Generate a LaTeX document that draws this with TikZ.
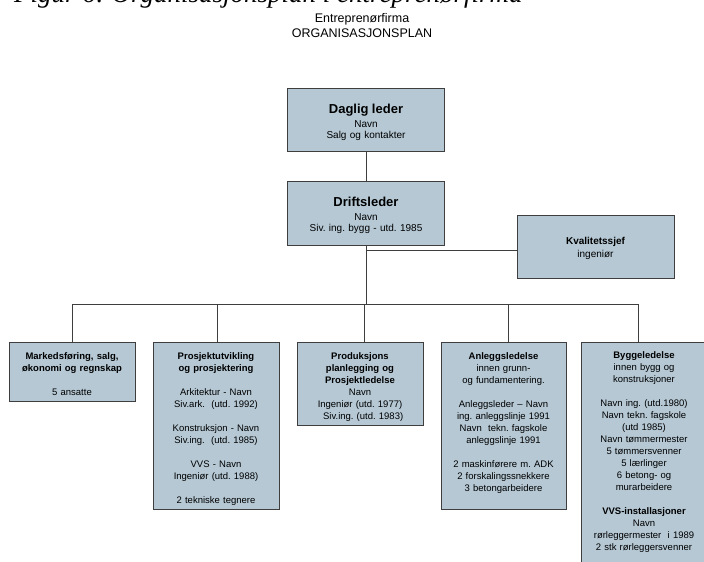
\documentclass[tikz,border=0pt]{standalone}
\usepackage{fontspec}
\setmainfont{Liberation Sans}
\newfontfamily\captionserif{Liberation Serif}
\usetikzlibrary{calc}
\frenchspacing

\definecolor{boxblue}{RGB}{181,200,212}
\definecolor{boxline}{RGB}{62,62,62}
% strut that pushes a box text a little down
\newcommand{\lift}[1]{\rule{0pt}{#1pt}}

\begin{document}
\begin{tikzpicture}[x=1pt,y=-1pt]
  \tikzstyle{unit}=[draw=boxline, fill=boxblue, line width=0.9pt, align=center, inner sep=0pt, font=\fontsize{9.5}{12}\selectfont]
  \tikzstyle{head}=[unit, minimum width=157pt, minimum height=63pt, text width=150pt, font=\fontsize{10}{11.5}\selectfont]
  \tikzstyle{link}=[line width=0.9pt, color=boxline]
  \useasboundingbox (0,0) rectangle (704,562);

  % caption cut off at the top
  \node[anchor=base west, inner sep=0pt, font={\captionserif\itshape\fontsize{27}{27}\selectfont}] (caption) at (14,2) {Figur 6: Organisasjonsplan i entreprenørfirma};
  \node[align=center, inner sep=0pt, font=\fontsize{12.5}{15.5}\selectfont] (firma) at (362,25.5) {Entreprenørfirma\\ ORGANISASJONSPLAN};

  \node[head] (daglig) at (366,119.5) {\lift{16}{\fontsize{13}{15}\selectfont\bfseries Daglig leder}\\[2pt] Navn\\ Salg og kontakter};
  \node[head, minimum height=64pt] (drift) at (366,213) {\lift{15}{\fontsize{13}{15}\selectfont\bfseries Driftsleder}\\[2pt] Navn\\ Siv. ing. bygg - utd. 1985};
  \node[head, font=\fontsize{10}{13}\selectfont] (kval) at (595.5,246.5) {\lift{11}\textbf{Kvalitetssjef}\\ ingeniør};

  \node[unit, minimum width=126pt, minimum height=59pt, text width=122pt] (markeds) at (72,371.5) {\lift{12}\textbf{Markedsføring, salg,}\\ \textbf{økonomi og regnskap}\\[12pt] 5 ansatte};
  \node[unit, minimum width=126pt, minimum height=167pt, text width=122pt] (prosjekt) at (216,425.5) {\lift{13}\textbf{Prosjektutvikling}\\ \textbf{og prosjektering}\\[12pt] Arkitektur - Navn\\ Siv.ark.\ \ (utd. 1992)\\[12pt] Konstruksjon - Navn\\ Siv.ing.\ \ (utd. 1985)\\[12pt] VVS - Navn\\ Ingeniør (utd. 1988)\\[12pt] 2 tekniske tegnere};
  \node[unit, minimum width=126pt, minimum height=83pt, text width=122pt] (produksjon) at (360,383.5) {\lift{13}\textbf{Produksjons}\\ \textbf{planlegging og}\\ \textbf{Prosjektledelse}\\ Navn\\ Ingeniør (utd. 1977)\\ \ \ Siv.ing. (utd. 1983)};
  \node[unit, minimum width=125pt, minimum height=167pt, text width=122pt] (anlegg) at (503.5,425.5) {\lift{11}\textbf{Anleggsledelse}\\ innen grunn-\\ og fundamentering.\\[12pt] Anleggsleder -- Navn\\ ing. anleggslinje 1991\\ Navn\ \ tekn. fagskole\\ anleggslinje 1991\\[12pt] 2 maskinførere m. ADK\\ 2 forskalingssnekkere\\ 3 betongarbeidere\\[-1pt]~};
  \node[unit, minimum width=126pt, minimum height=260pt, text width=122pt] (bygg) at (644,472) {\lift{11}\textbf{Byggeledelse}\\ innen bygg og\\ konstruksjoner\\[12pt] Navn ing. (utd.1980)\\ Navn tekn. fagskole\\ (utd 1985)\\ Navn tømmermester\\ 5 tømmersvenner\\ 5 lærlinger\\ 6 betong- og\\ murarbeidere\\[12.5pt] \textbf{VVS-installasjoner}\\ Navn\\ rørleggermester\ \ i 1989\\ 2 stk rørleggersvenner\\[34pt]~};

  \coordinate (bus) at (0,304);
  \coordinate (byggtop) at ([xshift=-6pt]bygg.north);
  \coordinate (kvalin) at ([yshift=-4pt]kval.west);
  \draw[link] (daglig) -- (drift);
  \draw[link] (drift.south) -- (drift.south |- bus);
  \draw[link] (kvalin) -- (kvalin -| drift.south);
  \draw[link] (markeds.north) |- (byggtop |- bus) -- (byggtop);
  \foreach \n/\dx in {prosjekt/1,produksjon/4,anlegg/4.5} {
    \draw[link] ([xshift=\dx pt]\n.north) -- ++(0,-38);
  }
\end{tikzpicture}
\end{document}
